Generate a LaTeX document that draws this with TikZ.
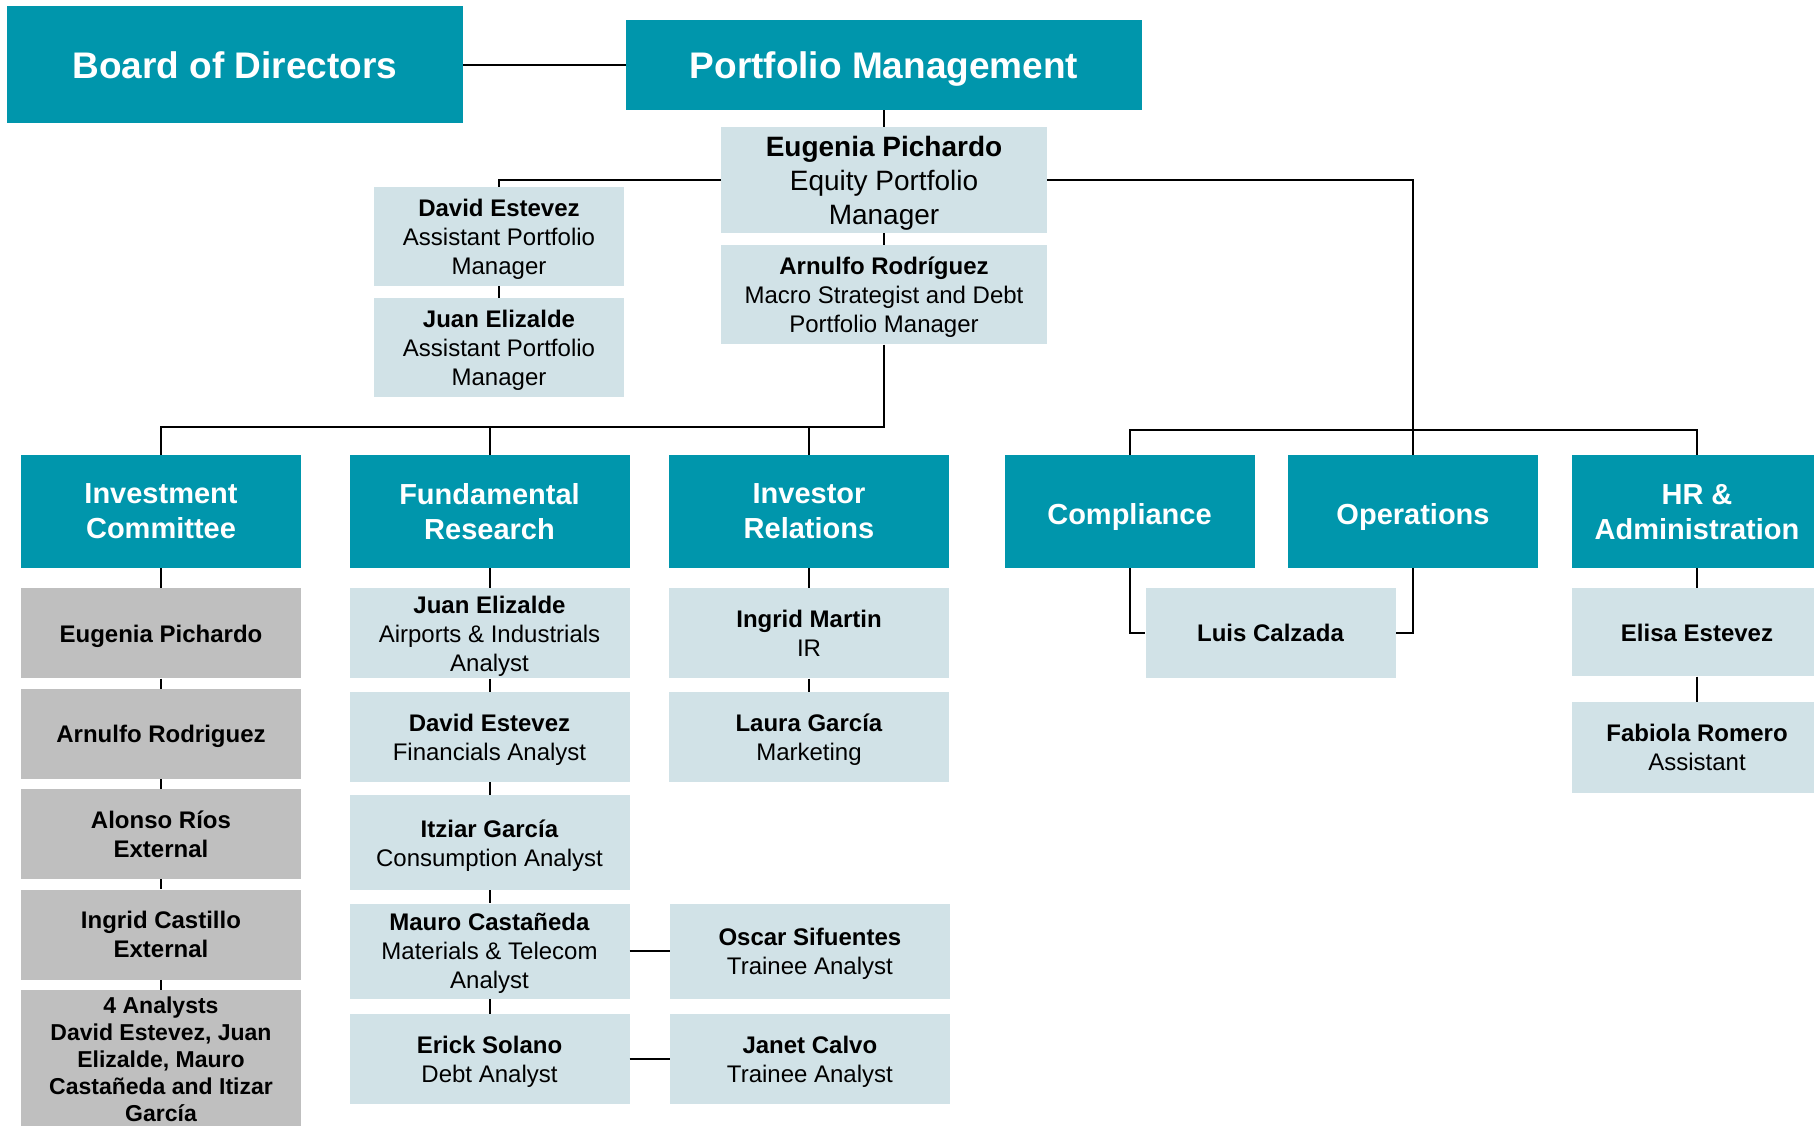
\documentclass[tikz,border=0pt]{standalone}
\usepackage{fontspec}
\setmainfont{Liberation Sans}
\usetikzlibrary{positioning}
\definecolor{orgteal}{RGB}{0,150,172}
\definecolor{orgpale}{RGB}{209,226,231}
\definecolor{orggrey}{RGB}{191,191,191}
\tikzset{
    %Define style for the two boxes on top
    topbox/.style={
           rectangle,
           fill=orgteal,
           text=white,
           font=\bfseries\fontsize{37}{44}\selectfont,
           text depth=0pt,
           inner sep=0pt},
    %Define style for department boxes
    dept/.style={
           rectangle,
           fill=orgteal,
           text=white,
           font=\bfseries\fontsize{29}{35}\selectfont,
           text depth=0pt,
           align=center,
           inner sep=0pt,
           minimum width=280pt,
           minimum height=113pt},
    %Define style for people boxes
    person/.style={
           rectangle,
           fill=orgpale,
           font=\fontsize{24}{29}\selectfont,
           text depth=0pt,
           align=center,
           inner sep=0pt,
           minimum width=280pt,
           minimum height=90pt},
    solo/.style={
           person,
           font=\bfseries\fontsize{24}{29}\selectfont},
    member/.style={
           solo,
           fill=orggrey},
    % Define line style
    link/.style={
           draw=black,
           line width=2pt}
}

\begin{document}
\begin{tikzpicture}[x=1pt, y=-1pt, node distance=10pt]
 \useasboundingbox (0,0) rectangle (1814,1126);
 %nodes
    \node[topbox, minimum width=456pt, minimum height=117pt] (board) at (235,65) {Board of Directors};
    \node[topbox, minimum width=516pt, minimum height=90pt] (pm) at (884,65) {Portfolio Management};
    \node[person, minimum width=326pt, minimum height=106pt, font=\fontsize{28}{34}\selectfont] (eug) at (884,180) {\textbf{Eugenia Pichardo}\\Equity Portfolio\\Manager};
    \node[person, minimum width=326pt, minimum height=99pt, below=12pt of eug] (arn) {\textbf{Arnulfo Rodríguez}\\Macro Strategist and Debt\\Portfolio Manager};
    \node[person, minimum width=250pt, minimum height=99pt] (dav) at (499,236.5) {\textbf{David Estevez}\\Assistant Portfolio\\Manager};
    \node[person, minimum width=250pt, minimum height=99pt, below=12pt of dav] (jua) {\textbf{Juan Elizalde}\\Assistant Portfolio\\Manager};
    \coordinate (lbus) at (0,427);
    \coordinate (rbus) at (0,430);
 %departments
    \node[dept] (ic) at (161,511.5) {Investment\\Committee};
    \node[dept] (fr) at (489.5,511.5) {Fundamental\\Research};
    \node[dept] (ir) at (809,511.5) {Investor\\Relations};
    \node[dept, minimum width=250pt, text height=26pt] (comp) at (1129.5,511.5) {Compliance};
    \node[dept, minimum width=250pt, text height=26pt] (ops) at (1413,511.5) {Operations};
    \node[dept, minimum width=250pt] (hr) at (1697,511.5) {HR \&\\Administration};
 %investment committee
    \node[member, below=20pt of ic] (ic1) {Eugenia Pichardo};
    \node[member, below=of ic1] (ic2) {Arnulfo Rodriguez};
    \node[member, below=of ic2] (ic3) {Alonso Ríos\\External};
    \node[member, below=of ic3] (ic4) {Ingrid Castillo\\External};
    \node[member, below=of ic4, minimum height=139pt, font=\bfseries\fontsize{23}{27}\selectfont] (ic5) {4 Analysts\\David Estevez, Juan\\Elizalde, Mauro\\Castañeda and Itizar\\García};
 %fundamental research
    \node[person, below=20pt of fr] (fr1) {\textbf{Juan Elizalde}\\Airports \& Industrials\\Analyst};
    \node[person, below=13pt of fr1] (fr2) {\textbf{David Estevez}\\Financials Analyst};
    \node[person, below=13pt of fr2, minimum height=95pt] (fr3) {\textbf{Itziar García}\\Consumption Analyst};
    \node[person, below=13pt of fr3, minimum height=95pt] (fr4) {\textbf{Mauro Castañeda}\\Materials \& Telecom\\Analyst};
    \node[person, below=15pt of fr4] (fr5) {\textbf{Erick Solano}\\Debt Analyst};
 %investor relations
    \node[person, below=20pt of ir] (ir1) {\textbf{Ingrid Martin}\\IR};
    \node[person, below=13pt of ir1] (ir2) {\textbf{Laura García}\\Marketing};
    \node[person, right=40pt of fr4, minimum height=95pt] (ir3) {\textbf{Oscar Sifuentes}\\Trainee Analyst};
    \node[person, right=40pt of fr5] (ir4) {\textbf{Janet Calvo}\\Trainee Analyst};
 %compliance, operations, hr
    \node[solo, minimum width=250pt] (luis) at (1270.5,633) {Luis Calzada};
    \node[solo, minimum width=250pt, minimum height=88pt, below=20pt of hr] (hr1) {Elisa Estevez};
    \node[person, minimum width=250pt, minimum height=91pt, below=25pt of hr1] (hr2) {\textbf{Fabiola Romero}\\Assistant};
 %edges
    \draw[link] (board) -- (pm);
    \draw[link] (pm) -- (eug);
    \draw[link] (eug) -- (arn);
    \draw[link] (eug.west) -| (dav.north);
    \draw[link] (dav) -- (jua);
    \draw[link] (eug.east) -| (ops.north);
    \draw[link] (arn.south) |- (ic.north |- lbus) -- (ic.north);
    \draw[link] (fr.north) -- (fr.north |- lbus);
    \draw[link] (ir.north) -- (ir.north |- lbus);
    \draw[link] (comp.north) |- (hr.north |- rbus) -- (hr.north);
    \draw[link] (comp.south) |- (luis.west);
    \draw[link] (ops.south) |- (luis.east);
    \draw[link] (hr) -- (hr1);
    \draw[link] (hr1) -- (hr2);
    \draw[link] (ic) -- (ic1);
    \draw[link] (ic1) -- (ic2);
    \draw[link] (ic2) -- (ic3);
    \draw[link] (ic3) -- (ic4);
    \draw[link] (ic4) -- (ic5);
    \draw[link] (fr) -- (fr1);
    \draw[link] (fr1) -- (fr2);
    \draw[link] (fr2) -- (fr3);
    \draw[link] (fr3) -- (fr4);
    \draw[link] (fr4) -- (fr5);
    \draw[link] (fr4) -- (ir3);
    \draw[link] (fr5) -- (ir4);
    \draw[link] (ir) -- (ir1);
    \draw[link] (ir1) -- (ir2);
\end{tikzpicture}
\end{document}
